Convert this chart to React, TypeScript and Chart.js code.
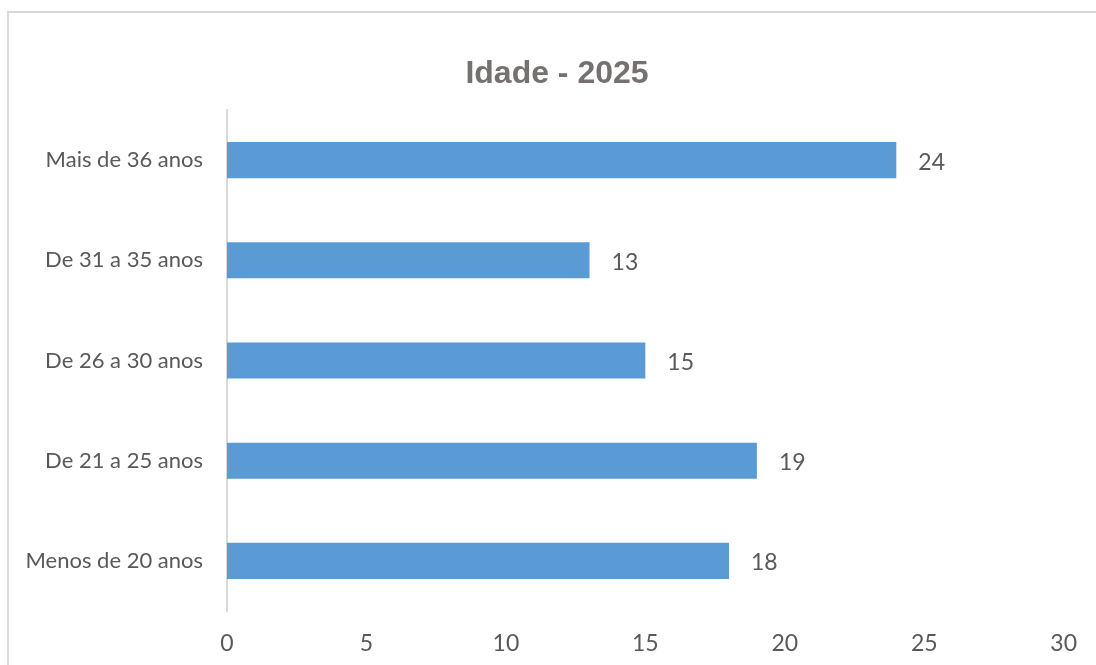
import React, { useEffect, useRef } from "react";
import { Chart, registerables } from "chart.js";

Chart.register(...registerables);

const categories: string[] = [
  "Menos de 20 anos",
  "De 21 a 25 anos",
  "De 26 a 30 anos",
  "De 31 a 35 anos",
  "Mais de 36 anos",
];
const values: number[] = [18, 19, 15, 13, 24];
const xTicks: number[] = [0, 5, 10, 15, 20, 25, 30];
const chartTitle = "Idade - 2025";

const FONT = "Lato, 'Open Sans', sans-serif";
const TEXT = "#595959";

const dataLabelPlugin = {
  id: "dataLabels",
  afterDatasetsDraw(chart: any) {
    const ctx = chart.ctx;
    const meta = chart.getDatasetMeta(0);
    ctx.save();
    ctx.font = `23px ${FONT}`;
    ctx.fillStyle = TEXT;
    ctx.textAlign = "left";
    ctx.textBaseline = "middle";
    meta.data.forEach((bar: any, i: number) => {
      const v = chart.data.datasets[0].data[i];
      ctx.fillText(String(v), bar.x + 22, bar.y + 2);
    });
    ctx.restore();
  },
};

// Title centred on the whole chart frame (which extends past the right edge)
const frameTitlePlugin = {
  id: "frameTitle",
  afterDraw(chart: any) {
    const ctx = chart.ctx;
    ctx.save();
    ctx.font = `bold 32px 'Liberation Sans', Arial, sans-serif`;
    ctx.fillStyle = "#767171";
    ctx.textAlign = "center";
    ctx.textBaseline = "middle";
    ctx.fillText(chartTitle, 557, 74);
    ctx.restore();
  },
};

export default function App() {
  const ref = useRef<HTMLCanvasElement | null>(null);
  useEffect(() => {
    if (!ref.current) return;
    const chart = new Chart(ref.current, {
      type: "bar",
      data: {
        labels: categories,
        datasets: [
          {
            data: values,
            backgroundColor: "#5B9BD5",
            borderWidth: 0,
            categoryPercentage: 1,
            barPercentage: 0.36,
          },
        ],
      },
      options: {
        indexAxis: "y",
        animation: false,
        responsive: false,
        maintainAspectRatio: false,
        layout: { padding: { left: 0, right: 32, top: 110, bottom: 0 } },
        plugins: {
          legend: { display: false },
          tooltip: { enabled: false },
          title: { display: false },
        },
        scales: {
          x: {
            type: "linear",
            min: 0,
            max: 30,
            afterBuildTicks: (scale: any) => {
              scale.ticks = xTicks.map((v) => ({ value: v }));
            },
            afterFit: (scale: any) => {
              scale.height = 54;
            },
            grid: { display: false, drawTicks: false },
            border: { display: false },
            ticks: {
              color: TEXT,
              font: { family: FONT, size: 23 },
              padding: 19,
            },
          },
          y: {
            reverse: true,
            afterFit: (scale: any) => {
              scale.width = 227;
            },
            grid: { display: false, drawTicks: false },
            border: { display: true, color: "#D9D9D9", width: 2 },
            ticks: {
              color: TEXT,
              font: { family: FONT, size: 22 },
              padding: 24,
            },
          },
        },
      },
      plugins: [dataLabelPlugin, frameTitlePlugin],
    });
    return () => chart.destroy();
  }, []);

  return (
    <div
      style={{
        position: "fixed",
        left: 0,
        top: 0,
        width: 1096,
        height: 665,
        overflow: "hidden",
        background: "#fff",
      }}
    >
      <div
        style={{
          position: "absolute",
          left: 7,
          top: 11,
          width: 1120,
          height: 700,
          border: "2px solid #D9D9D9",
          boxSizing: "border-box",
        }}
      />
      <canvas
        ref={ref}
        width={1096}
        height={665}
        style={{ position: "absolute", left: 0, top: 0, width: 1096, height: 665 }}
      />
    </div>
  );
}
